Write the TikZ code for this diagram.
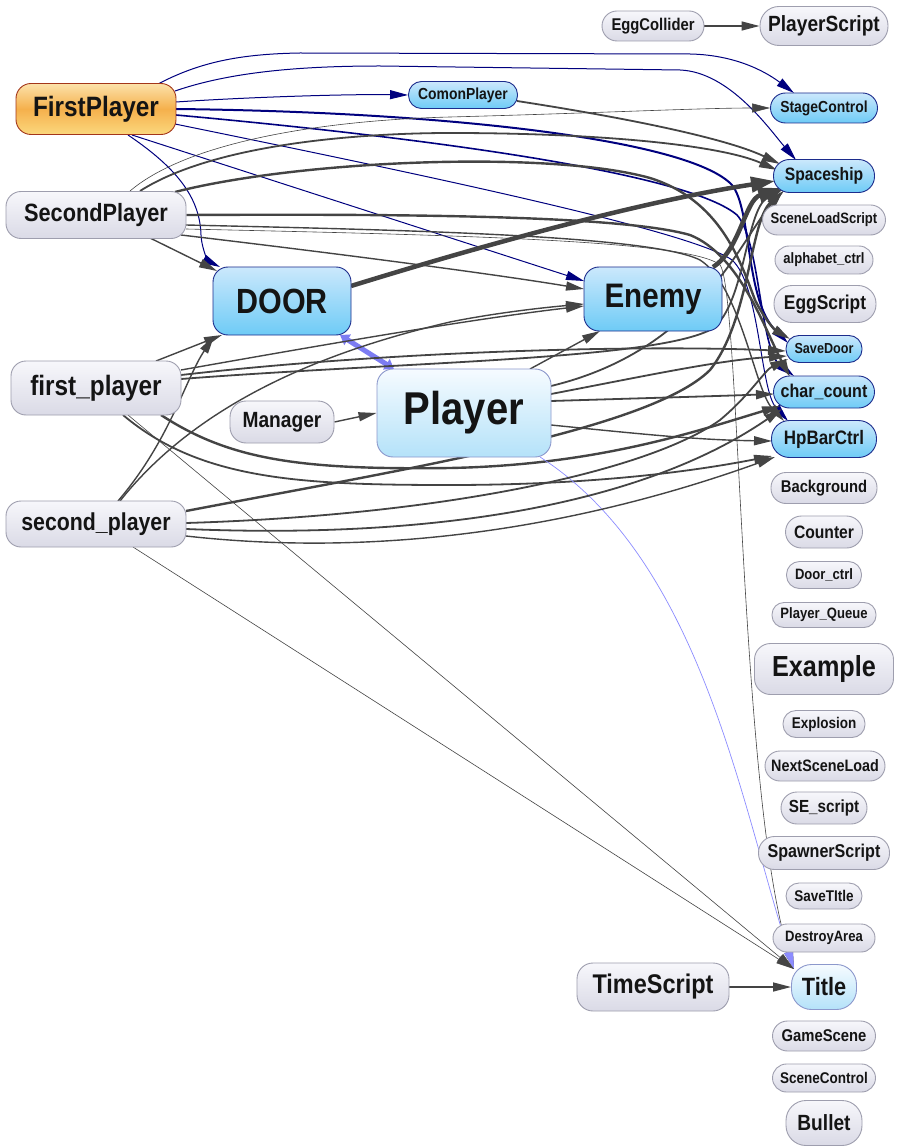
\documentclass[tikz,border=0pt]{standalone}
\usepackage{fontspec}
\setmainfont{Liberation Sans}[FakeStretch=0.87]
\usetikzlibrary{arrows.meta,calc,backgrounds}
\definecolor{eg}{HTML}{444444}
\definecolor{nv}{HTML}{00007F}
\definecolor{gtop}{HTML}{F7F7FB}
\definecolor{gbot}{HTML}{DADAE6}
\definecolor{gbd}{HTML}{9E9EAE}
\definecolor{btop}{HTML}{CBE8FC}
\definecolor{bbot}{HTML}{6ECBF6}
\definecolor{bbd}{HTML}{1C2C8C}
\definecolor{ltop}{HTML}{F6FBFF}
\definecolor{lbot}{HTML}{B4E2F9}
\definecolor{lbd}{HTML}{8C98CC}
\definecolor{otop}{HTML}{FCE2AA}
\definecolor{omid}{HTML}{F5B04C}
\definecolor{obot}{HTML}{FBD87E}
\definecolor{obd}{HTML}{A3361A}
\definecolor{dbl}{HTML}{7C7CF2}
\definecolor{lbl}{HTML}{8C8CFF}
\definecolor{txt}{HTML}{141414}
\newcommand\myfs[1]{\fontsize{#1}{#1}\selectfont}
\tikzset{
 nb/.style={draw, line width=0.9pt, inner sep=0pt, text=txt},
 gn/.style={nb, draw=gbd, top color=gtop, bottom color=gbot},
 bn/.style={nb, draw=bbd, top color=btop, bottom color=bbot},
 ln/.style={nb, draw=lbd, top color=ltop, bottom color=lbot},
 on/.style={nb, draw=obd, top color=otop, bottom color=obot, middle color=omid},
 sz/.style n args={3}{minimum width=#1pt, minimum height=#2pt, rounded corners=#3pt},
 ged/.style={draw=eg, line width=1.4pt, -{Triangle[length=18pt,width=9pt]}},
 gthin/.style={ged, line width=0.6pt},
 gmid/.style={ged, line width=1.8pt},
 gthick/.style={ged, line width=2.4pt},
 gbig/.style={draw=eg, line width=4.5pt, -{Triangle[length=24pt,width=15pt]}},
 ned/.style={draw=nv, line width=1pt, -{Triangle[length=18pt,width=9pt]}},
 nthick/.style={ned, line width=2pt},
 lblue/.style={draw=lbl, line width=0.7pt, -{Triangle[length=18pt,width=9pt]}},
 dblarrow/.style={draw=dbl, line width=5pt, {Triangle[length=9pt,width=12pt]}-{Triangle[length=9pt,width=12pt]}},
}
\begin{document}
\begin{tikzpicture}[x=1pt,y=-1pt]
\useasboundingbox (0,0) rectangle (899,1147);
\node[gn, sz={102}{30}{15}, font=\bfseries\myfs{17}] (EC) at (653,26) {EggCollider};
\node[gn, sz={128}{39}{19}, font=\bfseries\myfs{22}] (PS) at (824,26) {PlayerScript};
\node[on, sz={160}{51}{15}, font=\bfseries\myfs{28}] (FP) at (96,109) {FirstPlayer};
\node[bn, sz={109}{27}{13}, font=\bfseries\myfs{16}] (CP) at (463,95) {ComonPlayer};
\node[bn, sz={107}{30}{15}, font=\bfseries\myfs{16}] (SC) at (824,108) {StageControl};
\node[bn, sz={101}{33}{16}, font=\bfseries\myfs{18}] (SS) at (824,176) {Spaceship};
\node[gn, sz={180}{47}{15}, font=\bfseries\myfs{25}] (SP) at (96,215) {SecondPlayer};
\node[gn, sz={123}{30}{15}, font=\bfseries\myfs{15}] (SLS) at (824,220) {SceneLoadScript};
\node[gn, sz={98}{28}{14}, font=\bfseries\myfs{15}] (AC) at (824,260) {alphabet\_ctrl};
\node[bn, sz={138}{68}{15}, font=\bfseries\myfs{35}] (DOOR) at (282,301) {DOOR};
\node[bn, sz={138}{64}{15}, font=\bfseries\myfs{34}] (EN) at (653,299) {Enemy};
\node[gn, sz={102}{37}{18}, font=\bfseries\myfs{20}] (ES) at (825,304) {EggScript};
\node[bn, sz={76}{27}{13}, font=\bfseries\myfs{14.5}] (SD) at (824,349) {SaveDoor};
\node[gn, sz={170}{54}{15}, font=\bfseries\myfs{28}] (FPl) at (96,388) {first\_player};
\node[bn, sz={101}{32}{16}, font=\bfseries\myfs{18.5}] (CC) at (824,392) {char\_count};
\node[gn, sz={104}{42}{16}, font=\bfseries\myfs{22}] (MG) at (282,422) {Manager};
\node[ln, sz={174}{88}{16}, font=\bfseries\myfs{46}] (PL) at (464,413) {Player};
\node[bn, sz={105}{37}{18}, font=\bfseries\myfs{19.5}] (HP) at (824,439) {HpBarCtrl};
\node[gn, sz={106}{31}{15}, font=\bfseries\myfs{17}] (BG) at (824,488) {Background};
\node[gn, sz={180}{46}{15}, font=\bfseries\myfs{24.5}] (SPl) at (96,524) {second\_player};
\node[gn, sz={77}{32}{16}, font=\bfseries\myfs{18}] (CT) at (824,532) {Counter};
\node[gn, sz={75}{27}{13}, font=\bfseries\myfs{15}] (DC) at (824,575) {Door\_ctrl};
\node[gn, sz={104}{25}{12}, font=\bfseries\myfs{15}] (PQ) at (824,615) {Player\_Queue};
\node[gn, sz={139}{51}{16}, font=\bfseries\myfs{29}] (EX) at (824,669) {Example};
\node[gn, sz={82}{27}{13}, font=\bfseries\myfs{15.5}] (EP) at (824,724) {Explosion};
\node[gn, sz={120}{30}{15}, font=\bfseries\myfs{16.5}] (NSL) at (825,766) {NextSceneLoad};
\node[gn, sz={86}{32}{16}, font=\bfseries\myfs{17.5}] (SE) at (824,808) {SE\_script};
\node[gn, sz={131}{33}{16}, font=\bfseries\myfs{18.5}] (SPS) at (824,853) {SpawnerScript};
\node[gn, sz={76}{26}{13}, font=\bfseries\myfs{15.5}] (ST) at (824,896) {SaveTItle};
\node[gn, sz={102}{28}{14}, font=\bfseries\myfs{15}] (DA) at (824,938) {DestroyArea};
\node[ln, sz={65}{45}{20}, font=\bfseries\myfs{25}] (TI) at (824,987) {Title};
\node[gn, sz={152}{48}{16}, font=\bfseries\myfs{27}] (TS) at (653,987) {TimeScript};
\node[gn, sz={103}{30}{15}, font=\bfseries\myfs{17}] (GS) at (824,1036) {GameScene};
\node[gn, sz={103}{28}{14}, font=\bfseries\myfs{15.5}] (SCt) at (824,1078) {SceneControl};
\node[gn, sz={76}{45}{20}, font=\bfseries\myfs{22}] (BU) at (824,1123) {Bullet};
\begin{scope}[on background layer]
\fill[white] (0,0) rectangle (899,1147);
% navy edges from FirstPlayer
\draw[ned] ($(FP)+(62,-25)$) .. controls (200,62) and (240,54) .. (300,53) -- (690,54) .. controls (740,55) and (770,75) .. ($(SC)+(-30,-15)$);
\draw[ned] ($(FP)+(79,-18)$) .. controls (230,72) and (300,66) .. (380,66) -- (680,70) .. controls (730,72) and (770,130) .. ($(SS)+(-28,-16)$);
\draw[ned] ($(FP)+(80,-7)$) .. controls (250,97) and (350,94) .. (CP.west);
\draw[nthick] ($(FP)+(80,0)$) .. controls (450,112) and (690,140) .. (732,185) .. controls (752,210) and (745,300) .. ($(SD)+(-36,-6)$);
\draw[nthick, line width=1.6pt] ($(FP)+(80,6)$) .. controls (450,140) and (690,175) .. (737,215) .. controls (760,240) and (760,350) .. ($(CC)+(-30,-16)$);
\draw[ned] ($(FP)+(79,15)$) .. controls (400,170) and (690,230) .. (732,260) .. controls (760,285) and (760,390) .. ($(HP)+(-36,-18)$);
\draw[ned] ($(FP)+(36,26)$) -- ($(EN)+(-69,-18)$);
\draw[ned] ($(FP)+(32,26)$) .. controls (180,170) and (200,200) .. (201,235) .. controls (202,252) and (210,262) .. ($(DOOR)+(-62,-34)$);
% gray edges
\draw[ged] (EC.east) -- (PS.west);
\draw[gmid] ($(CP)+(54,6)$) .. controls (640,120) and (730,140) .. ($(SS)+(-44,-12)$);
\draw[gthin] ($(SP)+(34,-24)$) .. controls (190,140) and (330,120) .. (450,117) .. controls (600,113) and (700,108) .. (SC.west);
\draw[gmid] ($(SP)+(44,-24)$) .. controls (220,140) and (380,133) .. (450,133) .. controls (600,133) and (720,145) .. ($(SS)+(-47,-6)$);
\draw[gthick] ($(SP)+(79,-23)$) .. controls (300,160) and (550,150) .. (650,178) .. controls (720,200) and (740,260) .. (755,300) .. controls (765,320) and (775,330) .. ($(SD)+(-34,-10)$);
\draw[gthick] (SP.east) .. controls (400,214) and (620,215) .. (690,235) .. controls (740,255) and (765,330) .. ($(CC)+(-34,-15)$);
\draw[ged] ($(SP)+(90,10)$) .. controls (400,230) and (650,235) .. (700,260) .. controls (740,285) and (755,390) .. ($(HP)+(-40,-18)$);
\draw[gthin] ($(SP)+(90,14)$) .. controls (450,235) and (690,240) .. (720,265) .. controls (740,290) and (740,800) .. ($(TI)+(-30,-18)$);
\draw[ged] ($(SP)+(85,20)$) .. controls (350,255) and (500,275) .. ($(EN)+(-69,-10)$);
\draw[ged] ($(SP)+(54,23)$) -- ($(DOOR)+(-65,-30)$);
\draw[gbig] ($(DOOR)+(69,-15)$) .. controls (500,240) and (650,200) .. ($(SS)+(-49,5)$);
\draw[gbig] ($(EN)+(60,-32)$) .. controls (740,250) and (745,200) .. ($(SS)+(-42,12)$);
\draw[dblarrow] ($(DOOR)+(58,34)$) -- ($(PL)+(-70,-44)$);
\draw[ged] ($(FPl)+(60,-27)$) -- ($(DOOR)+(-60,34)$);
\draw[ged] ($(FPl)+(85,-18)$) .. controls (350,340) and (480,318) .. ($(EN)+(-69,7)$);
\draw[gmid] ($(FPl)+(85,-13)$) .. controls (400,350) and (650,345) .. ($(SD)+(-38,2)$);
\draw[gmid] ($(FPl)+(85,-9)$) .. controls (400,362) and (650,360) .. (710,330) .. controls (745,310) and (745,210) .. ($(SS)+(-41,13)$);
\draw[gthick] ($(FPl)+(65,27)$) .. controls (230,460) and (300,470) .. (450,468) .. controls (600,465) and (700,430) .. ($(CC)+(-44,14)$);
\draw[gmid] ($(FPl)+(27,27)$) .. controls (200,480) and (300,485) .. (450,485) .. controls (600,485) and (700,470) .. ($(HP)+(-52,17)$);
\draw[gthin] ($(FPl)+(32,27)$) -- ($(TI)+(-30,-18)$);
\draw[ged] (MG.east) -- (PL.west);
\draw[ged] ($(PL)+(66,-44)$) -- ($(EN)+(-53,32)$);
\draw[gmid] ($(PL)+(87,-27)$) .. controls (700,350) and (740,240) .. ($(SS)+(-41,15)$);
\draw[gmid] ($(PL)+(87,-19)$) .. controls (650,375) and (720,360) .. ($(SD)+(-37,7)$);
\draw[gmid] ($(PL)+(87,-12)$) .. controls (650,398) and (720,396) .. ($(CC)+(-50,2)$);
\draw[ged] ($(PL)+(87,12)$) .. controls (650,435) and (700,440) .. ($(HP)+(-52,2)$);
\draw[lblue] ($(PL)+(76,44)$) .. controls (700,560) and (740,800) .. ($(TI)+(-30,-18)$);
\draw[ged] ($(SPl)+(22,-23)$) .. controls (170,440) and (185,380) .. ($(DOOR)+(-68,35)$);
\draw[ged] ($(SPl)+(24,-23)$) .. controls (200,400) and (330,350) .. (450,322) .. controls (500,312) and (550,307) .. ($(EN)+(-69,5)$);
\draw[gthick] ($(SPl)+(90,-13)$) .. controls (400,470) and (650,430) .. (710,370) .. controls (750,320) and (750,220) .. ($(SS)+(-40,15)$);
\draw[gmid] ($(SPl)+(90,-1)$) .. controls (450,515) and (650,470) .. (720,420) .. controls (750,395) and (765,370) .. ($(SD)+(-36,10)$);
\draw[gmid] ($(SPl)+(90,5)$) .. controls (450,540) and (650,500) .. ($(CC)+(-42,17)$);
\draw[ged] ($(SPl)+(90,12)$) .. controls (400,560) and (600,520) .. ($(HP)+(-49,18)$);
\draw[gthin] ($(SPl)+(37,23)$) -- ($(TI)+(-30,-18)$);
\draw[ged] (TS.east) -- (TI.west);
\end{scope}
\end{tikzpicture}
\end{document}
